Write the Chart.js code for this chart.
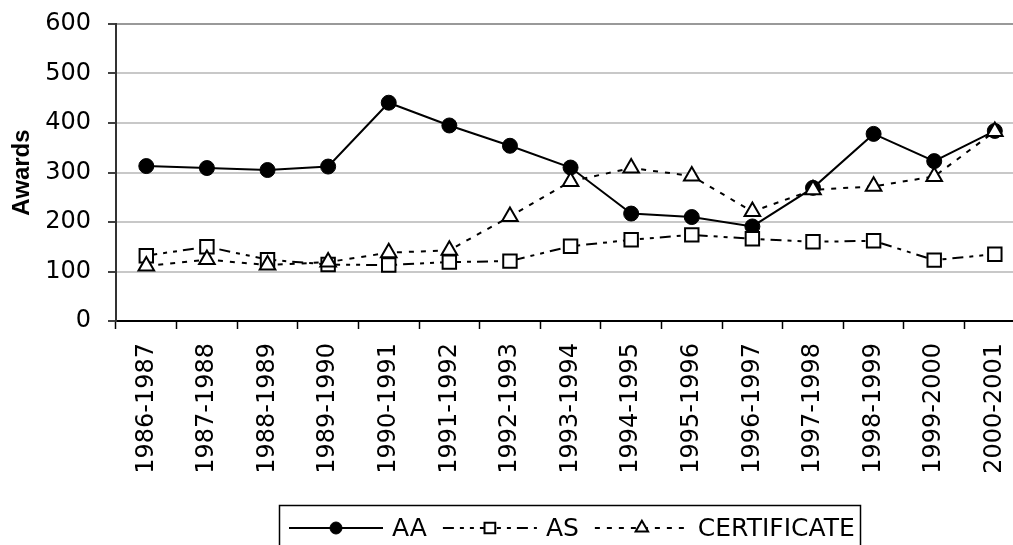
<!DOCTYPE html>
<html>
<head>
<meta charset="utf-8">
<script src="https://cdn.jsdelivr.net/npm/chart.js@4/dist/chart.umd.min.js"></script>
<style>
  html, body { margin: 0; padding: 0; overflow: hidden; background: #fff; }
  canvas { display: block; }
</style>
</head>
<body>
<canvas id="awardsChart" width="1038" height="545"></canvas>
<script>
const CATEGORIES = ['1986-1987', '1987-1988', '1988-1989', '1989-1990', '1990-1991',
    '1991-1992', '1992-1993', '1993-1994', '1994-1995', '1995-1996',
    '1996-1997', '1997-1998', '1998-1999', '1999-2000', '2000-2001'];
const AA_VALUES = [313, 309, 305, 312, 441, 395, 354, 310, 217, 210, 191, 269, 378, 323, 384];
const AS_VALUES = [132, 150, 124, 114, 113, 119, 121, 151, 164, 174, 166, 160, 162, 123, 135];
const CERT_VALUES = [111, 124, 113, 119, 138, 143, 211, 282, 309, 293, 221, 265, 272, 292, 383];
const Y_MIN = 0;
const Y_MAX = 600;
const Y_STEP = 100;

const TICK_FONT = "'DejaVu Sans', Verdana, sans-serif";

// draws the marker the same way for the legend samples
function drawMarker(ctx, style, x, y, r) {
    ctx.beginPath();
    if (style === 'circle') {
        ctx.arc(x, y, r, 0, Math.PI * 2);
    } else if (style === 'rect') {
        const s = Math.SQRT1_2 * r;
        ctx.rect(x - s, y - s, 2 * s, 2 * s);
    } else if (style === 'triangle') {
        ctx.moveTo(x, y - r);
        ctx.lineTo(x + r * Math.cos(Math.PI / 6), y + r * Math.sin(Math.PI / 6));
        ctx.lineTo(x - r * Math.cos(Math.PI / 6), y + r * Math.sin(Math.PI / 6));
        ctx.closePath();
    }
    ctx.fill();
    ctx.stroke();
}

// Excel style legend: boxed, line sample with the marker in the middle
const boxedLegend = {
    id: 'boxedLegend',
    afterDraw(chart) {
        const ctx = chart.ctx;
        ctx.save();
        ctx.strokeStyle = '#000';
        ctx.lineWidth = 1.5;
        ctx.strokeRect(279.5, 505.5, 581, 60);

        ctx.font = "25px " + TICK_FONT;
        ctx.textBaseline = 'middle';
        const y = 528;
        let x = 289;
        chart.data.datasets.forEach((ds) => {
            const sampleW = 94;
            ctx.strokeStyle = '#000';
            ctx.lineWidth = 2;
            ctx.setLineDash(ds.borderDash || []);
            ctx.beginPath();
            ctx.moveTo(x, y);
            ctx.lineTo(x + sampleW, y);
            ctx.stroke();
            ctx.setLineDash([]);
            ctx.fillStyle = ds.pointBackgroundColor;
            ctx.lineWidth = ds.pointBorderWidth;
            drawMarker(ctx, ds.pointStyle, x + sampleW / 2, y, ds.pointRadius * 0.8);
            x += sampleW + 9;
            ctx.fillStyle = '#000';
            ctx.fillText(ds.label, x, y + 1);
            x += ctx.measureText(ds.label).width + 16;
        });
        ctx.restore();
    }
};

const ctx = document.getElementById('awardsChart').getContext('2d');
const awardsChart = new Chart(ctx, {
    type: 'line',
    data: {
        labels: CATEGORIES,
        datasets: [{
            label: 'AA',
            data: AA_VALUES,
            borderColor: '#000',
            borderWidth: 2,
            pointStyle: 'circle',
            pointRadius: 7.5,
            pointBackgroundColor: '#000',
            pointBorderColor: '#000',
            pointBorderWidth: 1,
            tension: 0,
            order: 2
        }, {
            label: 'AS',
            data: AS_VALUES,
            borderColor: '#000',
            borderWidth: 2,
            borderDash: [11, 6, 4, 6, 4, 6],
            pointStyle: 'rect',
            pointRadius: 9.5,
            pointBackgroundColor: '#fff',
            pointBorderColor: '#000',
            pointBorderWidth: 2,
            tension: 0,
            order: 1
        }, {
            label: 'CERTIFICATE',
            data: CERT_VALUES,
            borderColor: '#000',
            borderWidth: 2,
            borderDash: [5, 7],
            pointStyle: 'triangle',
            pointRadius: 9,
            pointBackgroundColor: '#fff',
            pointBorderColor: '#000',
            pointBorderWidth: 2,
            tension: 0,
            order: 0
        }]
    },
    options: {
        responsive: false,
        animation: false,
        layout: {
            padding: { top: 24, right: 5, bottom: 64, left: 0 }
        },
        plugins: {
            legend: { display: false },
            tooltip: { enabled: false }
        },
        scales: {
            x: {
                offset: true,
                afterFit(scale) { scale.height = 160; },
                border: { color: '#000', width: 2 },
                grid: {
                    offset: true,
                    drawOnChartArea: false,
                    tickLength: 8,
                    tickColor: '#000',
                    tickWidth: 1.5
                },
                ticks: {
                    autoSkip: false,
                    minRotation: 90,
                    maxRotation: 90,
                    padding: 14,
                    color: '#000',
                    font: { family: TICK_FONT, size: 24 }
                }
            },
            y: {
                min: Y_MIN,
                max: Y_MAX,
                afterFit(scale) { scale.width = 116; },
                border: { color: '#333', width: 2 },
                grid: {
                    color: (c) => c.tick && c.tick.value === Y_MAX ? '#999' : '#c8c8c8',
                    lineWidth: 2,
                    tickLength: 8,
                    tickColor: '#000',
                    tickWidth: 1.5
                },
                ticks: {
                    stepSize: Y_STEP,
                    padding: 17,
                    color: '#000',
                    // small line height so the top label does not push the plot down
                    font: { family: TICK_FONT, size: 24, lineHeight: 0.5 }
                },
                title: {
                    display: true,
                    text: 'Awards',
                    color: '#000',
                    padding: { top: 8, bottom: 0 },
                    font: { family: "'Liberation Sans', Arial, sans-serif", size: 24, weight: 'bold' }
                }
            }
        }
    },
    plugins: [boxedLegend]
});
</script>
</body>
</html>
